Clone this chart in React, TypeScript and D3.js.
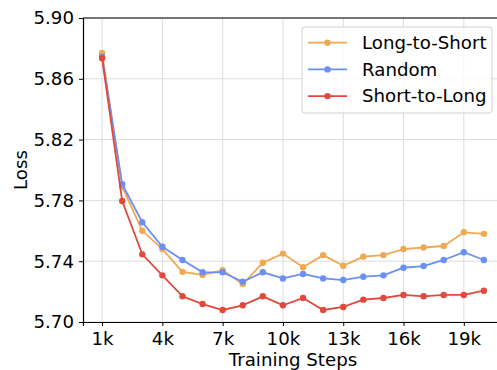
import React, { useEffect, useRef } from 'react';
import * as d3 from 'd3';

// training steps (k)
const steps = [1, 2, 3, 4, 5, 6, 7, 8, 9, 10, 11, 12, 13, 14, 15, 16, 17, 18, 19, 20];

const longToShort = [5.877, 5.789, 5.760, 5.748, 5.733, 5.731, 5.734, 5.725, 5.739, 5.745,
  5.736, 5.744, 5.737, 5.743, 5.744, 5.748, 5.749, 5.750, 5.759, 5.758];
const randomOrder = [5.8745, 5.7906, 5.7656, 5.7495, 5.7408, 5.7327, 5.7327, 5.7265, 5.7327, 5.7287,
  5.7316, 5.7287, 5.7276, 5.7298, 5.7307, 5.7357, 5.7368, 5.7408, 5.7459, 5.7408];
const shortToLong = [5.8735, 5.7796, 5.7445, 5.7307, 5.7169, 5.7118, 5.7079, 5.711, 5.7169, 5.711,
  5.7158, 5.7079, 5.7099, 5.7147, 5.7158, 5.7178, 5.7169, 5.7178, 5.7178, 5.7206];

const seriesNames = ['Long-to-Short', 'Random', 'Short-to-Long'];
const seriesColors = ['#f0a851', '#6a8ff5', '#e2493c'];
const xTicks = [1, 4, 7, 10, 13, 16, 19];
const yTicks = [5.70, 5.74, 5.78, 5.82, 5.86, 5.90];

export default function App() {
  const ref = useRef<SVGSVGElement>(null);

  useEffect(() => {
    const width = 497;
    const height = 370;
    const margin = { top: 18, left: 83, bottom: 322, right: 503 };
    const font = 'DejaVu Sans, sans-serif';
    const fs = '18.2px';

    const svg = d3.select(ref.current).attr('viewBox', [0, 0, width, height] as any);
    svg.selectAll('*').remove();

    const x = d3.scaleLinear([0.05, 20.95], [margin.left, margin.right]);
    const y = d3.scaleLinear([5.70, 5.90], [margin.bottom, margin.top]);

    // grid
    const grid = svg.append('g');
    grid.selectAll('.gx').data(xTicks).join('line')
      .attr('x1', (d) => x(d)).attr('x2', (d) => x(d))
      .attr('y1', margin.top).attr('y2', margin.bottom)
      .attr('stroke', '#dcdcdc').attr('stroke-width', 1);
    grid.selectAll('.gy').data(yTicks).join('line')
      .attr('x1', margin.left).attr('x2', margin.right)
      .attr('y1', (d) => y(d)).attr('y2', (d) => y(d))
      .attr('stroke', '#dcdcdc').attr('stroke-width', 1);

    // series
    const all = [longToShort, randomOrder, shortToLong];
    const line = d3.line<number>().x((_, i) => x(steps[i])).y((d) => y(d));
    all.forEach((vals, k) => {
      const g = svg.append('g');
      g.append('path').attr('d', line(vals)).attr('fill', 'none')
        .attr('stroke', seriesColors[k]).attr('stroke-width', 1.8);
      g.selectAll('circle').data(vals).join('circle')
        .attr('cx', (_, i) => x(steps[i])).attr('cy', (d) => y(d))
        .attr('r', 3.2).attr('fill', seriesColors[k]);
    });

    // axes
    const xAxis = svg.append('g').attr('transform', `translate(0,${margin.bottom})`)
      .call(d3.axisBottom(x).tickValues(xTicks).tickFormat((d) => `${d}k`).tickSize(4).tickPadding(4));
    const yAxis = svg.append('g').attr('transform', `translate(${margin.left},0)`)
      .call(d3.axisLeft(y).tickValues(yTicks).tickFormat(d3.format('.2f')).tickSize(4).tickPadding(5));
    [xAxis, yAxis].forEach((a) => {
      a.selectAll('text').style('font-family', font).style('font-size', fs).attr('fill', '#000');
      a.selectAll('line').attr('stroke', '#000');
      a.select('.domain').attr('stroke', '#000').attr('stroke-width', 1.2);
    });
    xAxis.selectAll('text').attr('dy', '0.85em');

    svg.append('line').attr('x1', margin.left).attr('x2', margin.right)
      .attr('y1', margin.top).attr('y2', margin.top).attr('stroke', '#000').attr('stroke-width', 1.2);

    // titles
    svg.append('text').attr('x', x(10.5)).attr('y', 366).attr('text-anchor', 'middle')
      .style('font-family', font).style('font-size', fs).text('Training Steps');
    svg.append('text').attr('transform', `translate(27,${(margin.top + margin.bottom) / 2}) rotate(-90)`)
      .attr('text-anchor', 'middle').style('font-family', font).style('font-size', fs).text('Loss');

    // legend
    const lg = svg.append('g').attr('transform', 'translate(302,27)');
    lg.append('rect').attr('width', 190).attr('height', 86).attr('rx', 3)
      .attr('fill', 'rgba(255,255,255,0.8)').attr('stroke', '#d0d0d0');
    seriesNames.forEach((name, k) => {
      const yy = 15.7 + k * 26.7;
      lg.append('line').attr('x1', 6).attr('x2', 45).attr('y1', yy).attr('y2', yy)
        .attr('stroke', seriesColors[k]).attr('stroke-width', 1.8);
      lg.append('circle').attr('cx', 25.5).attr('cy', yy).attr('r', 3.2).attr('fill', seriesColors[k]);
      lg.append('text').attr('x', 60).attr('y', yy).attr('dy', '0.35em')
        .style('font-family', font).style('font-size', fs).text(name);
    });
  }, []);

  return (
    <svg ref={ref} width={497} height={370}
      style={{ position: 'absolute', left: 0, top: 0, background: '#fff' }} />
  );
}
